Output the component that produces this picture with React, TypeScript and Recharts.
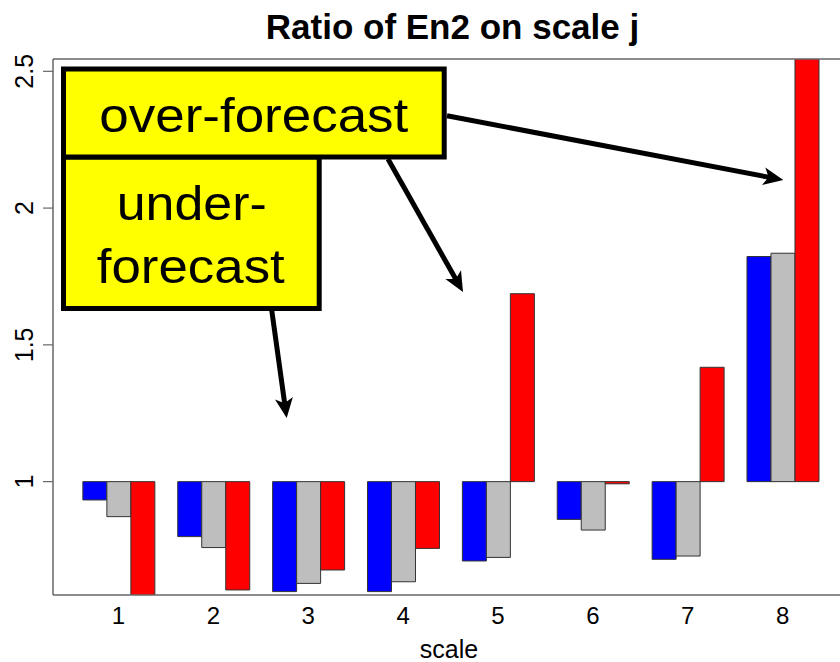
import React from 'react';
import { BarChart, Bar, XAxis, YAxis } from 'recharts';

const categories = ['1', '2', '3', '4', '5', '6', '7', '8'];
const blueValues = [0.933, 0.799, 0.598, 0.598, 0.71, 0.862, 0.716, 1.823];
const grayValues = [0.872, 0.759, 0.628, 0.634, 0.723, 0.823, 0.728, 1.835];
const redValues = [0.57, 0.604, 0.677, 0.756, 1.687, 0.992, 1.418, 2.75];
const yTicks = [1, 1.5, 2, 2.5];
const baseline = 1;

const data = categories.map((c, i) => ({
  scale: c,
  blue: blueValues[i],
  gray: grayValues[i],
  red: redValues[i],
}));

const rangeOf = (key: string) => (d: any) => [Math.min(baseline, d[key]), Math.max(baseline, d[key])];

const FONT = '"Liberation Sans", Arial, Helvetica, sans-serif';

const XTick = (props: any) => {
  const { x, y, payload } = props;
  return (
    <text x={x} y={y + 29} textAnchor="middle" fontFamily={FONT} fontSize={24} fill="#000">
      {payload.value}
    </text>
  );
};

const YTick = (props: any) => {
  const { y, payload } = props;
  const tx = 33;
  return (
    <text
      x={tx}
      y={y}
      transform={`rotate(-90 ${tx} ${y})`}
      textAnchor="middle"
      fontFamily={FONT}
      fontSize={25}
      fill="#000"
    >
      {payload.value}
    </text>
  );
};

const Arrow = ({ x1, y1, x2, y2 }: { x1: number; y1: number; x2: number; y2: number }) => {
  const dx = x2 - x1;
  const dy = y2 - y1;
  const len = Math.sqrt(dx * dx + dy * dy);
  const ux = dx / len;
  const uy = dy / len;
  const headLen = 20;
  const headW = 9;
  const bx = x2 - ux * headLen;
  const by = y2 - uy * headLen;
  const px = -uy;
  const py = ux;
  const pts = `${x2},${y2} ${bx + px * headW},${by + py * headW} ${bx + ux * 5},${by + uy * 5} ${bx - px * headW},${by - py * headW}`;
  return (
    <g>
      <line x1={x1} y1={y1} x2={bx + ux * 6} y2={by + uy * 6} stroke="#000" strokeWidth={5} />
      <polygon points={pts} fill="#000" />
    </g>
  );
};

export default function App() {
  return (
    <div style={{ position: 'absolute', left: 0, top: 0, width: 840, height: 662, background: '#fff' }}>
      <BarChart
        width={840}
        height={662}
        data={data}
        margin={{ top: 59, right: 0, bottom: 37, left: 0 }}
        barCategoryGap="12.5%"
        barGap={0}
      >
        <XAxis
          dataKey="scale"
          height={30}
          padding={{ left: 18, right: 10 }}
          tickLine={false}
          tickSize={0}
          tickMargin={0}
          tick={<XTick />}
          axisLine={{ stroke: '#666', strokeWidth: 1.5 }}
          interval={0}
        />
        <YAxis
          width={53}
          type="number"
          domain={[0.5856, 2.545]}
          allowDataOverflow
          ticks={yTicks}
          interval={0}
          tickSize={10}
          tickLine={{ stroke: '#666', strokeWidth: 1.2 }}
          axisLine={{ stroke: '#666', strokeWidth: 1.5 }}
          tick={<YTick />}
        />
        <Bar dataKey={rangeOf('blue')} fill="#0000ff" stroke="#333" strokeWidth={1} isAnimationActive={false} />
        <Bar dataKey={rangeOf('gray')} fill="#bebebe" stroke="#333" strokeWidth={1} isAnimationActive={false} />
        <Bar dataKey={rangeOf('red')} fill="#ff0000" stroke="#333" strokeWidth={1} isAnimationActive={false} />
      </BarChart>
      <svg
        width={840}
        height={662}
        style={{ position: 'absolute', left: 0, top: 0, pointerEvents: 'none' }}
      >
        <text x={452.5} y={39} textAnchor="middle" fontFamily={FONT} fontWeight="bold" fontSize={35} fill="#000">
          Ratio of En2 on scale j
        </text>
        <text x={449} y={658} textAnchor="middle" fontFamily={FONT} fontSize={25} fill="#000">
          scale
        </text>
        <line x1={53} y1={59} x2={840} y2={59} stroke="#666" strokeWidth={1.5} />
        <rect x={63.5} y={157} width={255.7} height={151.5} fill="#ffff00" stroke="#000" strokeWidth={5} />
        <rect x={63.5} y={69} width={380.7} height={88} fill="#ffff00" stroke="#000" strokeWidth={5} />
        <text x={253.8} y={132.3} textAnchor="middle" fontFamily={FONT} fontSize={48} textLength={309} lengthAdjust="spacingAndGlyphs" fill="#000">
          over-forecast
        </text>
        <text x={191.7} y={220} textAnchor="middle" fontFamily={FONT} fontSize={48} textLength={150} lengthAdjust="spacingAndGlyphs" fill="#000">
          under-
        </text>
        <text x={190.8} y={283.3} textAnchor="middle" fontFamily={FONT} fontSize={48} textLength={188} lengthAdjust="spacingAndGlyphs" fill="#000">
          forecast
        </text>
        <Arrow x1={447} y1={115.7} x2={783.3} y2={180} />
        <Arrow x1={388} y1={159} x2={463} y2={292} />
        <Arrow x1={271.7} y1={310} x2={286.7} y2={418} />
      </svg>
    </div>
  );
}
